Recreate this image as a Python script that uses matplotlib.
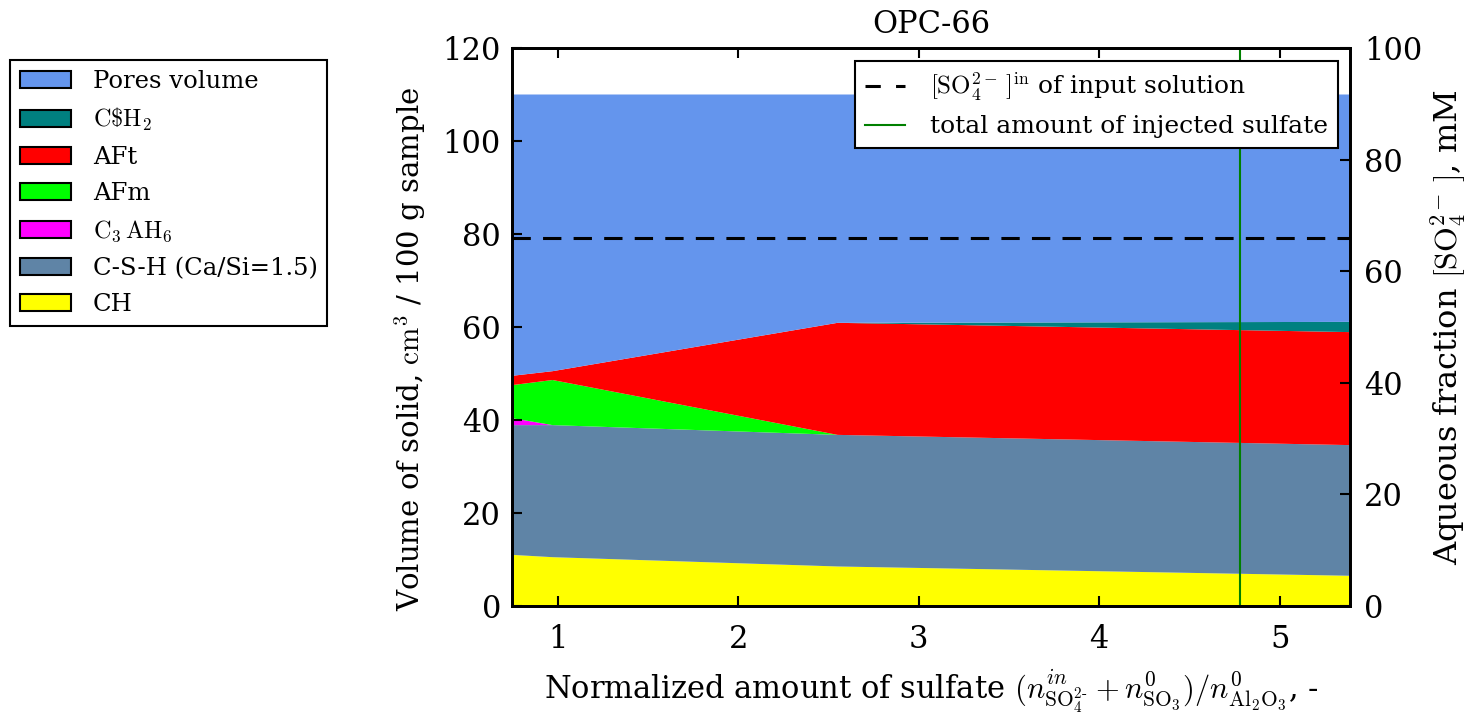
import matplotlib
matplotlib.use("Agg")
import matplotlib.pyplot as plt
from matplotlib.patches import Patch
from matplotlib.lines import Line2D

plt.rcParams['font.family'] = ['DejaVu Serif']
plt.rcParams['mathtext.fontset'] = 'cm'

# Normalized amount of sulfate at the simulation points
x_sulfate = [0.745, 0.97, 2.55, 5.39]

# Phase volumes, cm3 / 100 g sample (stacked bottom to top)
ch = [11.0, 10.5, 8.5, 6.5]
csh = [27.9, 28.4, 28.3, 28.1]
c3ah6 = [1.5, 0.0, 0.0, 0.0]
afm = [7.1, 9.7, 0.0, 0.0]
aft = [2.0, 1.9, 24.1, 24.3]
gypsum = [0.0, 0.0, 0.0, 2.2]
pores = [60.5, 59.5, 49.1, 48.9]

labels = ['CH', 'C-S-H (Ca/Si=1.5)', r'$\mathrm{C_3\,AH_6}$', 'AFm', 'AFt',
          r'$\mathrm{C\$H_2}$', 'Pores volume']
colors = ['#ffff00', '#5f84a6', '#ff00ff', '#00ff00', '#ff0000',
          '#008080', '#6495ed']

sulfate_input_mM = 66.0
injected_total = 4.78

fig = plt.figure(figsize=(14.75, 7.19), dpi=100)
ax = fig.add_axes([512 / 1475, 1 - 606 / 719, (1350 - 512) / 1475, (606 - 48) / 719])

ax.stackplot(x_sulfate, ch, csh, c3ah6, afm, aft, gypsum, pores,
             colors=colors, linewidth=0)
ax.set_xlim(0.745, 5.39)
ax.set_ylim(0, 120)
ax.set_xticks([1, 2, 3, 4, 5])
ax.set_yticks(range(0, 121, 20))
ax.tick_params(direction='in', length=7, width=1.5, labelsize=22,
               top=True, right=False)
ax.tick_params(axis='x', pad=13)
ax.tick_params(axis='y', pad=8)
for s in ax.spines.values():
    s.set_linewidth(2)

ax.set_title('OPC-66', fontsize=22, pad=11)
ax.set_xlabel(r'Normalized amount of sulfate $(n^{in}_{\mathrm{SO_4^{2\text{-}}}}'
              r'+n^0_{\mathrm{SO_3}})/n^0_{\mathrm{Al_2O_3}}$, -', fontsize=22,
              labelpad=9)
ax.set_ylabel(r'Volume of solid, $\mathrm{cm}^3$ / 100 g sample', fontsize=21)
ax.yaxis.set_label_coords(-0.1, 0.46)

ax.axvline(injected_total, color='green', lw=1.5)

ax2 = ax.twinx()
ax2.set_ylim(0, 100)
ax2.set_yticks(range(0, 101, 20))
ax2.axhline(sulfate_input_mM, color='black', lw=2.2, dashes=(6, 4))
ax2.tick_params(direction='in', length=7, width=1.5, labelsize=22, pad=10)
ax2.set_ylabel(r'Aqueous fraction $[\mathrm{SO_4^{2-}}\,]$, mM', fontsize=23,
               labelpad=5)
for s in ax2.spines.values():
    s.set_linewidth(2)

line_handles = [Line2D([], [], color='black', lw=2.2, dashes=(5, 5)),
                Line2D([], [], color='green', lw=1.5)]
line_labels = [r'$[\mathrm{SO_4^{2-}}\,]^{\mathrm{in}}$ of input solution',
               'total amount of injected sulfate']
leg2 = ax2.legend(line_handles, line_labels, loc='upper right', fontsize=18,
                  frameon=True, fancybox=False, framealpha=1, edgecolor='black',
                  handlelength=1.6, handletextpad=1.0, borderaxespad=0.5,
                  labelspacing=0.5)
leg2.get_frame().set_linewidth(1.5)

patch_handles = [Patch(facecolor=c, edgecolor='black', linewidth=1.5)
                 for c in colors][::-1]
leg1 = fig.legend(patch_handles, labels[::-1], loc='upper left',
                  bbox_to_anchor=(10 / 1475, 1 - 60 / 719), fontsize=17.5,
                  frameon=True, fancybox=False, framealpha=1, edgecolor='black',
                  handlelength=2.1, handleheight=0.7, handletextpad=0.9,
                  labelspacing=0.54, borderaxespad=0)
leg1.get_frame().set_linewidth(1.5)

fig.savefig('out.png', dpi=100)
